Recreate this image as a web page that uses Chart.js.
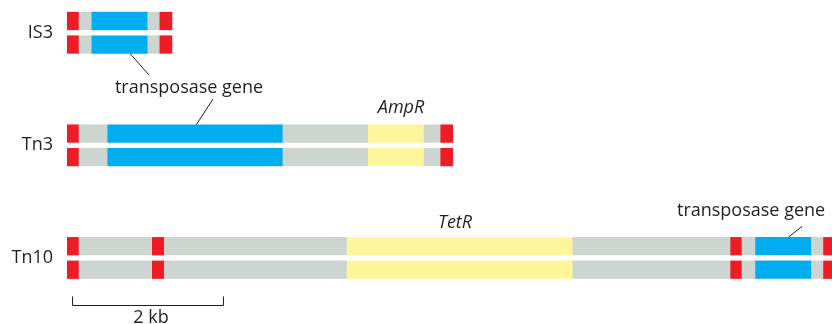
<!DOCTYPE html>
<html>
<head>
<meta charset="utf-8">
<script src="https://cdn.jsdelivr.net/npm/chart.js@4.4.0/dist/chart.umd.min.js"></script>
<style>
    body { margin: 0; background: #fff; }
    .wrap { width: 832px; height: 324px; position: relative; }
</style>
</head>
<body>
<div class="wrap"><canvas id="chart"></canvas></div>
<script>
// element names (one per transposon, top to bottom)
const names = ['IS3', 'Tn3', 'Tn10']

// segment boundaries in kb
const is3Edges = [0, 0.16, 0.33, 1.07, 1.23, 1.39]
const is3Parts = ['ir', 'dna', 'tnpA', 'dna', 'ir']

const tn3Edges = [0, 0.16, 0.54, 2.86, 3.99, 4.73, 4.95, 5.11]
const tn3Parts = ['ir', 'dna', 'tnpA', 'dna', 'resist', 'dna', 'ir']

const tn10Edges = [0, 0.16, 1.13, 1.29, 3.71, 6.70, 8.79, 8.94, 9.12, 9.86, 10.02, 10.18]
const tn10Parts = ['ir', 'dna', 'ir', 'dna', 'resist', 'dna', 'ir', 'dna', 'tnpA', 'dna', 'ir']

const scaleBarKb = 2

const partColors = {
    ir: '#ee1c25',
    dna: '#cdd5d1',
    tnpA: '#00aeef',
    resist: '#fff59b'
}

const textColor = '#231f20'
const fontFamily = '"Open Sans", "Noto Sans", sans-serif'

// both strands of each element
const segments = []
const addElement = (edges, parts, index) => {
    [-0.1045, 0.1045].forEach(offset => {
        parts.forEach((part, i) => {
            segments.push({ x: [edges[i], edges[i + 1]], y: index + offset, part })
        })
    })
}
addElement(is3Edges, is3Parts, 0)
addElement(tn3Edges, tn3Parts, 1)
addElement(tn10Edges, tn10Parts, 2)

const annotations = {
    id: 'annotations',
    afterDatasetsDraw(chart) {
        const { ctx, scales: { x, y } } = chart
        const px = v => x.getPixelForValue(v)
        const py = v => y.getPixelForValue(v)

        ctx.save()
        ctx.strokeStyle = textColor
        ctx.lineWidth = 1

        const line = (x1, y1, x2, y2) => {
            ctx.beginPath()
            ctx.moveTo(px(x1), py(y1))
            ctx.lineTo(px(x2), py(y2))
            ctx.stroke()
        }

        // leader lines to the transposase genes
        line(0.834, 0.184, 1.086, 0.375)
        line(1.934, 0.588, 1.715, 0.815)
        line(9.735, 1.720, 9.556, 1.814)

        // scale bar
        const barStart = 0.066
        ctx.beginPath()
        ctx.moveTo(Math.round(px(barStart)) + 0.5, py(2.342))
        ctx.lineTo(Math.round(px(barStart)) + 0.5, Math.round(py(2.422)) + 0.5)
        ctx.lineTo(Math.round(px(barStart + scaleBarKb)) + 0.5, Math.round(py(2.422)) + 0.5)
        ctx.lineTo(Math.round(px(barStart + scaleBarKb)) + 0.5, py(2.342))
        ctx.stroke()

        ctx.fillStyle = textColor
        ctx.textAlign = 'center'
        ctx.textBaseline = 'alphabetic'

        const label = (text, xv, yv, italic) => {
            ctx.font = (italic ? 'italic ' : '') + '18px ' + fontFamily
            ctx.fillText(text, px(xv), py(yv))
        }

        label('transposase gene', 1.616, 0.538)
        label('AmpR', 4.424, 0.715, true)
        label('TetR', 5.139, 1.737, true)
        label('transposase gene', 9.06, 1.625)
        label(scaleBarKb + ' kb', 1.113, 2.575)

        ctx.restore()
    }
}

new Chart(document.querySelector('#chart'), {
    type: 'bar',
    data: {
        datasets: [{
            data: segments,
            backgroundColor: segments.map(s => partColors[s.part]),
            borderWidth: 0,
            barThickness: 17.6,
            grouped: false
        }]
    },
    options: {
        indexAxis: 'y',
        responsive: true,
        maintainAspectRatio: false,
        animation: false,
        layout: { padding: 0 },
        plugins: {
            legend: { display: false },
            tooltip: { enabled: false }
        },
        scales: {
            x: {
                type: 'linear',
                display: false,
                min: 0,
                max: 10.132
            },
            y: {
                type: 'linear',
                reverse: true,
                offset: false,
                min: -0.291,
                max: 2.5865,
                grid: { display: false, offset: false },
                border: { display: false },
                afterFit: scale => {
                    scale.width = 67
                    scale.paddingTop = 0
                    scale.paddingBottom = 0
                },
                afterBuildTicks: scale => {
                    scale.ticks = names.map((n, i) => ({ value: i }))
                },
                ticks: {
                    padding: 6,
                    color: textColor,
                    font: { family: fontFamily, size: 18 },
                    callback: (value) => names[value]
                }
            }
        }
    },
    plugins: [annotations]
})
</script>
</body>
</html>
